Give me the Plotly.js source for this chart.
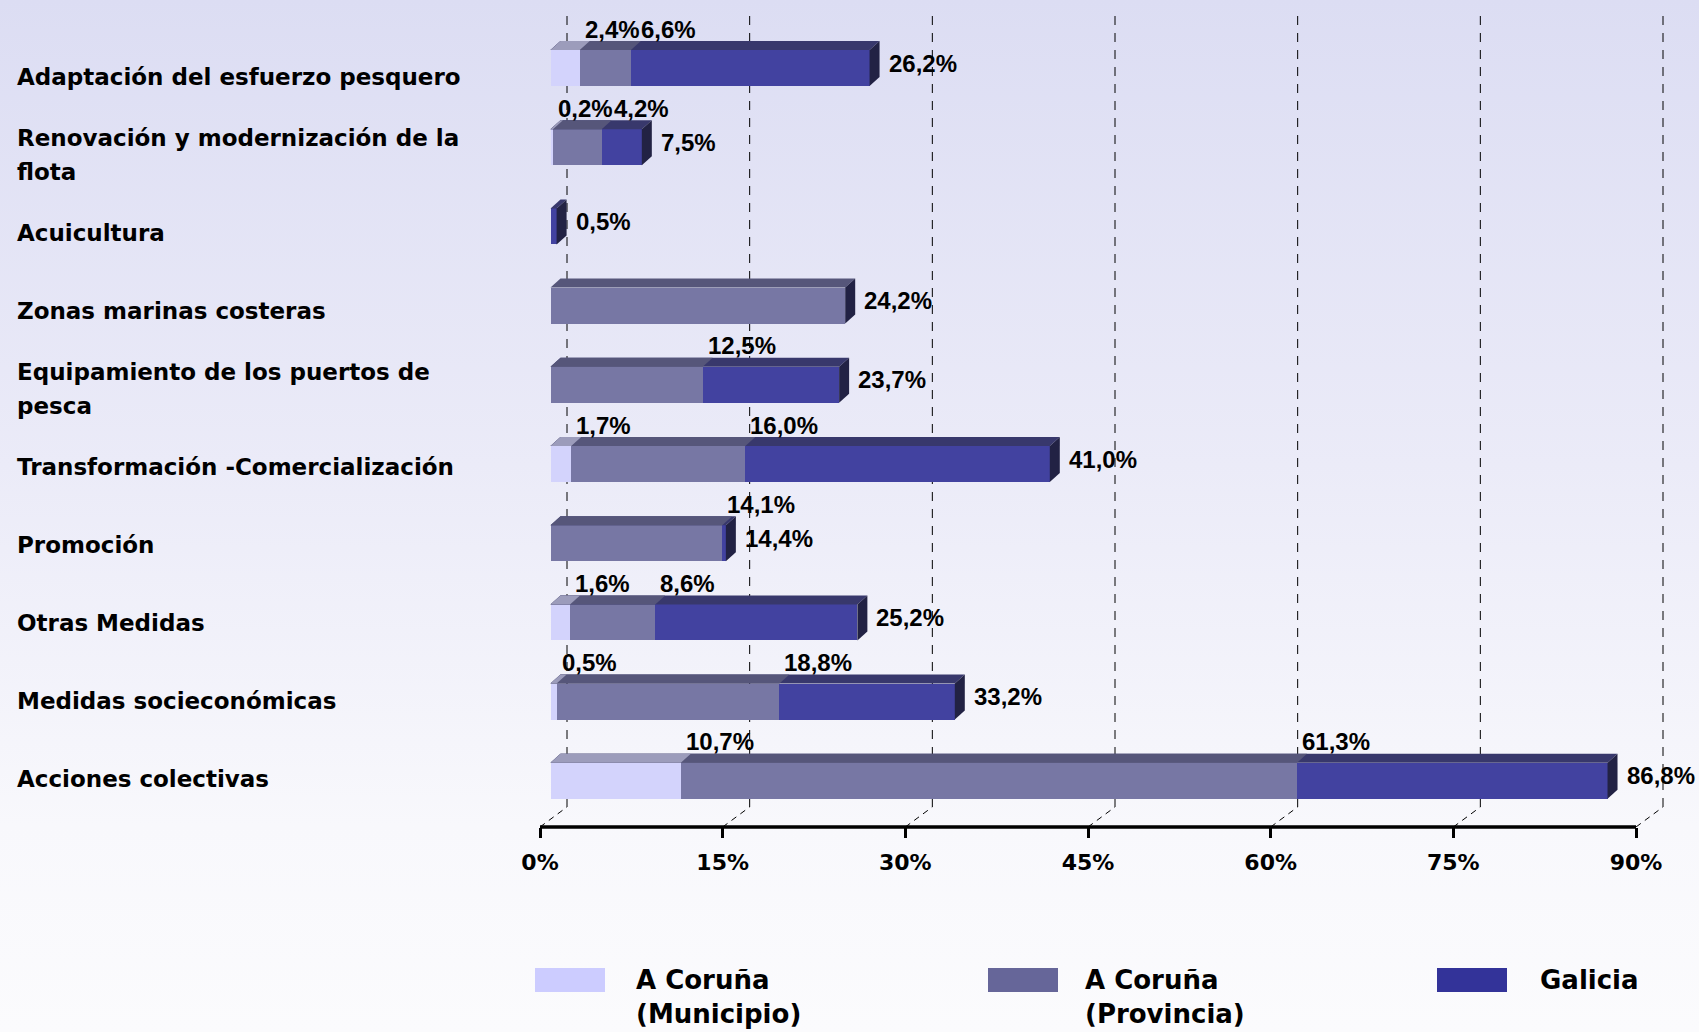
<!DOCTYPE html>
<html>
<head>
<meta charset="utf-8">
<script src="https://cdn.plot.ly/plotly-3.0.1.min.js"></script>
<style>
html,body{margin:0;padding:0;width:1699px;height:1032px;overflow:hidden;
background:linear-gradient(to bottom,#dcddf3 0%,#ebebf8 45%,#f8f8fc 80%,#fbfbfd 100%);}
#chart{width:1699px;height:1032px;}
</style>
</head>
<body>
<div id="chart"></div>
<script>
// ---------- DATA ----------
const categories = [
  'Adaptación del esfuerzo pesquero',
  'Renovación y modernización de la flota',
  'Acuicultura',
  'Zonas marinas costeras',
  'Equipamiento de los puertos de pesca',
  'Transformación -Comercialización',
  'Promoción',
  'Otras Medidas',
  'Medidas socieconómicas',
  'Acciones colectivas'
];
const seriesNames = ['A Coruña (Municipio)', 'A Coruña (Provincia)', 'Galicia'];
const municipio = [2.4, 0.2, null, null, null, 1.7, null, 1.6, 0.5, 10.7];
const provincia = [6.6, 4.2, null, 24.2, 12.5, 16.0, 14.1, 8.6, 18.8, 61.3];
const galicia   = [26.2, 7.5, 0.5, null, 23.7, 41.0, 14.4, 25.2, 33.2, 86.8];
const tickValues = [0, 15, 30, 45, 60, 75, 90];
const tickLabels = ['0%', '15%', '30%', '45%', '60%', '75%', '90%'];

// ---------- GEOMETRY / STYLE ----------
const FIG_W = 1699, FIG_H = 1032;
const M = {l: 540, r: 20, t: 16, b: 205};
const PW = FIG_W - M.l - M.r;       // plot width
const PH = FIG_H - M.t - M.b;       // plot height
const AXIS_LEN = 1096;              // pixel length of 0..90 axis
const XMAX = 90;
const kx = AXIS_LEN / XMAX;         // px per %
const FIRST_CENTER = 52;            // px from plot top to first bar centre
const ky = 79.2;                    // px per category
const yTop = -FIRST_CENTER / ky;
const yBot = yTop + PH / ky;
const FRONT_DX = 10.5;              // bar front plane offset from axis (px)
const WALL_DX = 27, WALL_DY = 20;   // back wall offset (px)
const DEPTH_X = 10, DEPTH_Y = 9;    // bar depth (px)
const BAR_W = 36 / ky;
const LABEL_Y0 = 77, LABEL_STEP = 78, LINE_H = 34;  // category label placement (px)
const VALUE_LABEL_W = 56;           // approx. width of a value label (px)

const cols = {
  municipio: {front: '#d3d3fc', top: '#9c9cbb', side: '#222244'},
  provincia: {front: '#7777a4', top: '#56567a', side: '#222244'},
  galicia:   {front: '#4242a0', top: '#38386c', side: '#222244'}
};
const legendColors = ['#ccccff', '#666699', '#333399'];

const labelFont = {family: 'DejaVu Sans', size: 23, color: '#000', weight: 'bold'};
const valueFont = {family: 'Liberation Sans', size: 24, color: '#000', weight: 'bold'};
const tickFont  = {family: 'DejaVu Sans', size: 22, color: '#000', weight: 'bold'};
const legendFont = {family: 'DejaVu Sans', size: 26, color: '#000', weight: 'bold'};

const idx = categories.map((c, i) => i);
const fmt = v => v.toFixed(1).replace('.', ',') + '%';
const px2paperX = px => (px - M.l) / PW;
const px2paperY = py => (M.t + PH - py) / PH;

function wrapLines(s, n) {
  const words = s.split(' '); const lines = []; let cur = '';
  words.forEach(w => {
    const t = cur ? cur + ' ' + w : w;
    if (t.length > n && cur) { lines.push(cur); cur = w; } else cur = t;
  });
  if (cur) lines.push(cur);
  return lines;
}

// ---------- TRACES ----------
const series = [
  {key: 'galicia', name: seriesNames[2], vals: galicia},
  {key: 'provincia', name: seriesNames[1], vals: provincia},
  {key: 'municipio', name: seriesNames[0], vals: municipio}
];
const traces = series.map(s => ({
  type: 'bar', orientation: 'h', name: s.name,
  x: s.vals, y: idx, width: BAR_W,
  xaxis: 'x2', yaxis: 'y',
  marker: {color: cols[s.key].front, line: {width: 0}},
  hoverinfo: 'skip', showlegend: false
}));
// invisible trace to activate main x axis
traces.push({type: 'scatter', x: [0], y: [yBot], xaxis: 'x', yaxis: 'y',
  mode: 'markers', marker: {opacity: 0}, hoverinfo: 'skip', showlegend: false});

// ---------- SHAPES ----------
const shapes = [];
const wOff = (WALL_DX - FRONT_DX) / kx;
const aOff = -FRONT_DX / kx;
const wallBottom = yBot - WALL_DY / ky;
tickValues.forEach(t => {
  shapes.push({type: 'line', layer: 'below', xref: 'x2', yref: 'y',
    x0: t + wOff, x1: t + wOff, y0: wallBottom, y1: yTop,
    line: {color: '#000', width: 1, dash: '9px,8px'}});
  shapes.push({type: 'line', layer: 'below', xref: 'x2', yref: 'y',
    x0: t + aOff, x1: t + wOff, y0: yBot, y1: wallBottom,
    line: {color: '#000', width: 1, dash: '6px,5px'}});
});
// axis line from 0 to 90
shapes.push({type: 'line', layer: 'above', xref: 'x', yref: 'paper',
  x0: 0, x1: XMAX, y0: 0, y1: 0, line: {color: '#000', width: 3.5}});

const ddx = DEPTH_X / kx, ddy = DEPTH_Y / ky;
const rowMax = idx.map(i => Math.max(...series.map(s => s.vals[i] || 0)));
series.forEach(s => {
  s.vals.forEach((v, i) => {
    if (v === null || v === undefined) return;
    const yt = i - BAR_W / 2, yb = i + BAR_W / 2;
    shapes.push({type: 'path', layer: 'above', xref: 'x2', yref: 'y',
      path: `M 0,${yt} L ${v},${yt} L ${v + ddx},${yt - ddy} L ${ddx},${yt - ddy} Z`,
      fillcolor: cols[s.key].top, line: {width: 0}});
    if (v === rowMax[i]) {
      shapes.push({type: 'path', layer: 'above', xref: 'x2', yref: 'y',
        path: `M ${v},${yt} L ${v + ddx},${yt - ddy} L ${v + ddx},${yb - ddy} L ${v},${yb} Z`,
        fillcolor: cols[s.key].side, line: {width: 0}});
    }
  });
});

// legend swatches
const legX = [535, 988, 1437];
const legTextX = [634, 1083, 1538];
legendColors.forEach((c, k) => {
  shapes.push({type: 'rect', xref: 'paper', yref: 'paper',
    x0: px2paperX(legX[k]), x1: px2paperX(legX[k] + 70),
    y0: px2paperY(992), y1: px2paperY(968),
    fillcolor: c, line: {width: 0}});
});

// ---------- ANNOTATIONS ----------
const annotations = [];
categories.forEach((c, i) => {
  const lines = wrapLines(c, 32);
  const cy = LABEL_Y0 + LABEL_STEP * i;
  lines.forEach((ln, j) => {
    annotations.push({xref: 'paper', yref: 'paper', x: px2paperX(15),
      y: px2paperY(cy + (j - (lines.length - 1) / 2) * LINE_H),
      xanchor: 'left', yanchor: 'middle', align: 'left', showarrow: false,
      text: ln, font: labelFont});
  });
});
idx.forEach(i => {
  // labels above the bar for the inner series, pushed right if they would collide
  const inner = [municipio[i], provincia[i], galicia[i]]
    .filter(v => v !== null && v !== undefined && v !== rowMax[i]);
  let minStart = -Infinity;
  inner.forEach(v => {
    const natural = v * kx + 3;
    const start = Math.max(natural, minStart);
    minStart = start + VALUE_LABEL_W;
    annotations.push({xref: 'x2', yref: 'y', x: v, y: i,
      xshift: start - v * kx, yshift: 39,
      xanchor: 'left', yanchor: 'middle', showarrow: false,
      text: fmt(v), font: valueFont});
  });
  // label at the end of the longest bar
  annotations.push({xref: 'x2', yref: 'y', x: rowMax[i], y: i,
    xshift: 17, yshift: 5, xanchor: 'left', yanchor: 'middle', showarrow: false,
    text: fmt(rowMax[i]), font: valueFont});
});
seriesNames.forEach((n, k) => {
  annotations.push({xref: 'paper', yref: 'paper', x: px2paperX(legTextX[k]),
    y: px2paperY(963), xanchor: 'left', yanchor: 'top', align: 'left',
    showarrow: false, text: wrapLines(n, 9).join('<br>'), font: legendFont});
});

// ---------- LAYOUT ----------
const layout = {
  width: FIG_W, height: FIG_H,
  margin: M,
  paper_bgcolor: 'rgba(0,0,0,0)', plot_bgcolor: 'rgba(0,0,0,0)',
  barmode: 'overlay', bargap: 0,
  showlegend: false,
  xaxis: {domain: [0, AXIS_LEN / PW], range: [0, XMAX], anchor: 'y',
    tickvals: tickValues, ticktext: tickLabels, tickfont: tickFont,
    ticks: 'outside', ticklen: 10, tickwidth: 3, tickcolor: '#000',
    ticklabelstandoff: 6,
    showline: false, showgrid: false, zeroline: false, fixedrange: true},
  xaxis2: {domain: [0, 1], range: [-FRONT_DX / kx, (PW - FRONT_DX) / kx], anchor: 'y',
    visible: false, showgrid: false, zeroline: false, fixedrange: true},
  yaxis: {range: [yBot, yTop], visible: false, showgrid: false, zeroline: false,
    fixedrange: true},
  shapes: shapes, annotations: annotations
};

Plotly.newPlot('chart', traces, layout, {staticPlot: true, displayModeBar: false});
</script>
</body>
</html>
